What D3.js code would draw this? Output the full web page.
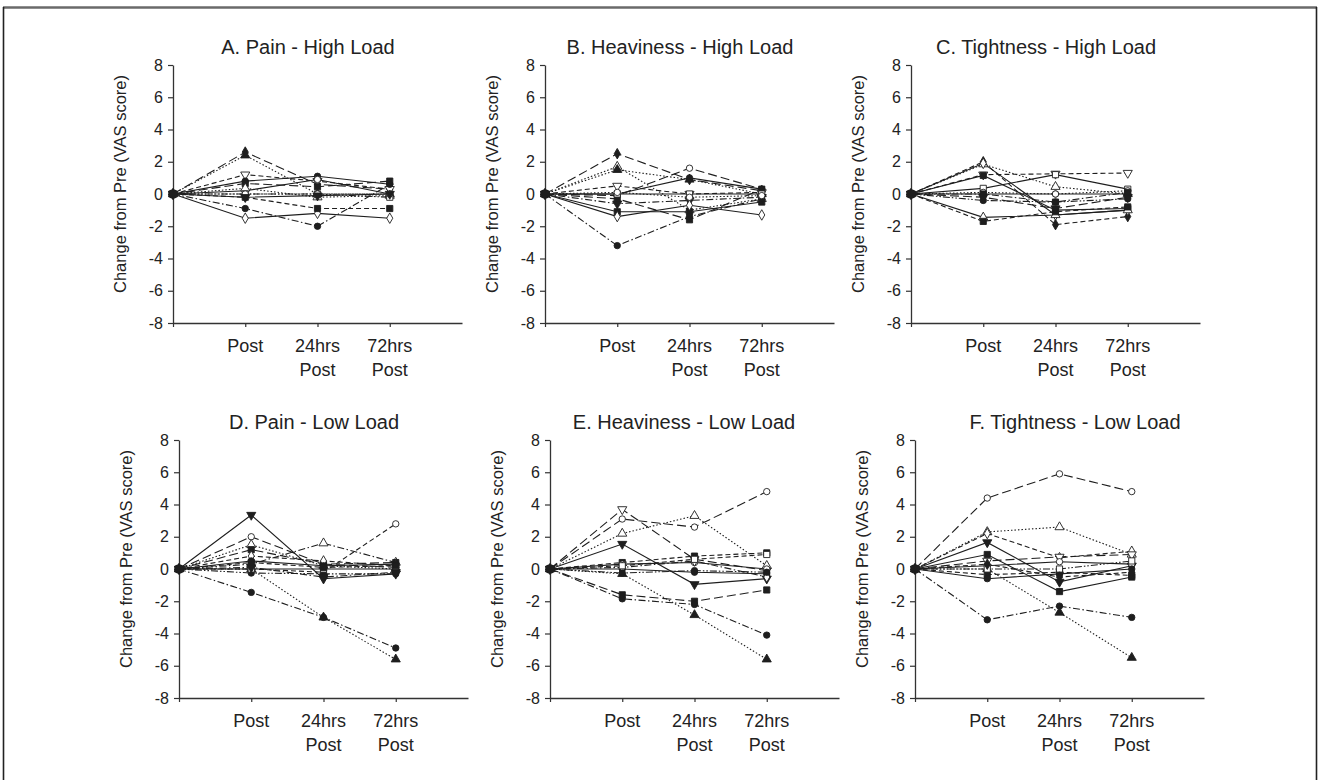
<!DOCTYPE html>
<html><head><meta charset="utf-8">
<script src="https://cdn.jsdelivr.net/npm/d3@7"></script>
<style>
html,body{margin:0;padding:0;background:#fff;}
svg{display:block;font-family:"Liberation Sans",Arial,sans-serif;}
</style></head>
<body><svg id="c" width="1320" height="780"></svg>
<script>
// ---------- DATA ----------
const timepoints = ["Pre", "Post", "24hrs Post", "72hrs Post"];
const xTickLines = [[], ["Post"], ["24hrs", "Post"], ["72hrs", "Post"]];
const yTicks = [-8, -6, -4, -2, 0, 2, 4, 6, 8];
const panelTitles = ["A. Pain - High Load", "B. Heaviness - High Load", "C. Tightness - High Load",
                     "D. Pain - Low Load", "E. Heaviness - Low Load", "F. Tightness - Low Load"];
const yAxisTitle = "Change from Pre (VAS score)";

// values at Pre, Post, 24hrs Post, 72hrs Post for each participant line
const painHigh = [
  [0, -1.5, -1.2, -1.5], [0, -0.9, -2.0, 0.6], [0, -0.2, -0.9, -0.9], [0, 2.6, 0.6, 0.3],
  [0, 2.4, 0.0, 0.0], [0, 1.2, 0.8, 0.3], [0, 0.8, 1.1, 0.6], [0, 0.2, 0.9, 0.0],
  [0, 0.65, 0.45, 0.8], [0, 0.35, -0.2, -0.1], [0, 0.0, 0.0, -0.2], [0, 0.0, 0.0, 0.0],
  [0, -0.2, -0.1, 0.0]
];
const heavinessHigh = [
  [0, 2.5, 0.9, 0.2], [0, 1.7, -1.0, -0.3], [0, 1.5, 0.9, 0.0], [0, -0.1, 1.6, 0.3],
  [0, 0.0, 1.0, 0.3], [0, 0.5, 0.0, 0.1], [0, -0.6, -0.4, -0.2], [0, -1.1, -1.1, -0.5],
  [0, -1.4, -0.7, -1.3], [0, -3.2, -1.4, -0.3], [0, -0.3, -1.6, 0.3], [0, 0.0, 0.0, 0.0],
  [0, 0.1, -0.2, -0.1]
];
const tightnessHigh = [
  [0, 2.0, -1.9, -1.4], [0, 1.85, 0.45, 0.0], [0, 1.9, -1.3, -1.0], [0, 1.2, 1.25, 1.3],
  [0, 1.15, -1.0, -0.9], [0, 0.35, 1.2, 0.3], [0, 0.0, 0.0, 0.0], [0, -0.4, -0.5, -0.3],
  [0, -1.45, -1.3, -1.0], [0, -1.7, -1.1, -0.8], [0, 0.1, 0.0, 0.2], [0, 0.0, -0.5, 0.1],
  [0, -0.2, -0.9, -0.2]
];
const painLow = [
  [0, 3.35, -0.6, -0.3], [0, 2.0, 0.3, 0.1], [0, 0.3, 1.6, 0.4], [0, 1.5, 0.2, 0.0],
  [0, 1.2, 0.3, 0.4], [0, 0.8, 0.5, 0.2], [0, 0.5, 0.2, 0.3], [0, 0.0, -0.2, 2.8],
  [0, 0.0, -3.0, -5.6], [0, -1.45, -3.0, -4.9], [0, -0.25, -0.3, -0.3], [0, 0.0, 0.0, 0.0],
  [0, 0.4, 0.1, 0.2], [0, 0.1, -0.5, -0.2]
];
const heavinessLow = [
  [0, 3.7, 0.6, -0.1], [0, 3.1, 2.6, 4.8], [0, 2.2, 3.3, 0.2], [0, 1.55, -0.95, -0.6],
  [0, 0.4, 0.8, 1.0], [0, -1.6, -2.0, -1.3], [0, -1.85, -2.2, -4.1], [0, -0.3, -2.85, -5.6],
  [0, 0.3, 0.4, 0.0], [0, 0.0, -0.2, -0.3], [0, 0.1, 0.5, -0.5], [0, 0.2, 0.6, 0.9],
  [0, -0.25, -0.1, -0.2]
];
const tightnessLow = [
  [0, 4.4, 5.9, 4.8], [0, 2.3, 2.6, 0.9], [0, 2.2, 0.7, 1.1], [0, 1.65, -0.8, 0.2],
  [0, 0.9, -1.4, -0.5], [0, -3.15, -2.3, -3.0], [0, 0.0, -2.7, -5.5], [0, 0.5, 0.75, 0.9],
  [0, 0.2, 0.45, 0.3], [0, -0.35, -0.2, -0.4], [0, -0.6, -0.3, 0.0], [0, 0.0, 0.0, 0.5],
  [0, 0.3, -0.5, -0.2]
];

// ---------- STYLES (marker + line pattern per line, per panel) ----------
const stylesA = ["od-so","fc-dd","fs-da","fd-ld","ft-dt","ov-da","fc-so","oc-so","fs-ld","ot-dt","os-d2","oc-dt","fv-so"];
const stylesB = ["fd-ld","ot-dt","ft-dt","oc-ld","fc-so","ov-da","fv-dd","fs-so","od-so","fc-dd","fs-ld","os-so","oc-dt"];
const stylesC = ["fd-da","ot-dt","od-so","ov-da","fs-so","os-so","fc-so","fc-d2","ot-so","fs-da","oc-dt","fs-dd","fv-ld"];
const stylesD = ["fv-so","oc-ld","ot-dd","ot-dt","fs-ld","od-da","fc-so","oc-da","ft-dt","fc-dd","fc-d2","os-so","fs-da","fv-dd"];
const stylesE = ["ov-ld","oc-ld","ot-dt","fv-so","fs-da","fs-ld","fc-dd","ft-dt","oc-so","fc-so","od-dd","os-da","fc-d2"];
const stylesF = ["oc-ld","ot-dt","od-da","fv-so","fs-so","fc-dd","ft-dt","ov-ld","oc-so","fs-da","fc-so","os-d2","fd-da"];

const panelData = [painHigh, heavinessHigh, tightnessHigh, painLow, heavinessLow, tightnessLow];
const panelStyles = [stylesA, stylesB, stylesC, stylesD, stylesE, stylesF];

// ---------- LAYOUT ----------
const plotW = 289;
const panelLayout = [
  {x0: 173, yTop: 65, yBot: 323, tdx: 135}, {x0: 545, yTop: 65, yBot: 323, tdx: 135}, {x0: 911, yTop: 65, yBot: 323, tdx: 135},
  {x0: 179, yTop: 440, yBot: 698, tdx: 135}, {x0: 550, yTop: 440, yBot: 698, tdx: 134}, {x0: 915, yTop: 440, yBot: 698, tdx: 160}
];
const dashMap = {so: null, da: "5,3", ld: "9,4", dt: "1.5,2", dd: "7,2.5,1.5,2.5", d2: "7,2,1.5,2,1.5,2"};
const ink = "#1e1e1e";

const svg = d3.select("#c");

// outer frame
svg.append("line").attr("x1", 3).attr("x2", 1317).attr("y1", 7.5).attr("y2", 7.5).attr("stroke", "#6a6a6a").attr("stroke-width", 2.5);
svg.append("line").attr("x1", 3.5).attr("x2", 3.5).attr("y1", 7).attr("y2", 780).attr("stroke", "#222").attr("stroke-width", 1.6);
svg.append("line").attr("x1", 1316.5).attr("x2", 1316.5).attr("y1", 7).attr("y2", 780).attr("stroke", "#222").attr("stroke-width", 1.6);

function markerPath(code) {
  const shape = code[1];
  const typeMap = {c: d3.symbolCircle, s: d3.symbolSquare, t: d3.symbolTriangle, v: d3.symbolTriangle, d: d3.symbolDiamond};
  const sizeMap = {c: 32, s: 38, t: 36, v: 36, d: 32};
  return d3.symbol().type(typeMap[shape]).size(sizeMap[shape])();
}

panelData.forEach((series, pi) => {
  const L = panelLayout[pi];
  const styles = panelStyles[pi];
  const x = d3.scaleLinear().domain([0, 4]).range([L.x0, L.x0 + plotW]);
  const y = d3.scaleLinear().domain([-8, 8]).range([L.yBot, L.yTop]);
  const g = svg.append("g");

  // axes
  const yAx = g.append("g").attr("transform", `translate(${L.x0},0)`)
    .call(d3.axisLeft(y).tickValues(yTicks).tickSize(5).tickPadding(5).tickSizeOuter(0).tickFormat(d => String(d)));
  const xAx = g.append("g").attr("transform", `translate(0,${L.yBot})`)
    .call(d3.axisBottom(x).tickValues([0, 1, 2, 3]).tickSize(4).tickSizeOuter(0).tickFormat(""));
  [yAx, xAx].forEach(a => {
    a.select(".domain").attr("stroke", "#333").attr("stroke-width", 1.3);
    a.selectAll(".tick line").attr("stroke", "#333").attr("stroke-width", 1.2);
  });
  yAx.selectAll(".tick text").attr("fill", "#222").style("font-size", "16px").style("font-family", "Liberation Sans, Arial, sans-serif");

  xTickLines.forEach((lines, i) => {
    lines.forEach((t, k) => {
      g.append("text").attr("x", x(i)).attr("y", L.yBot + 29 + k * 24)
        .attr("text-anchor", "middle").attr("fill", "#222").style("font-size", "18px").text(t);
    });
  });

  // titles
  g.append("text").attr("x", L.x0 + L.tdx).attr("y", L.yTop - 11).attr("text-anchor", "middle")
    .attr("fill", "#222").style("font-size", "20px").text(panelTitles[pi]);
  g.append("text").attr("transform", `translate(${L.x0 - 47},${(L.yTop + L.yBot) / 2 - 10}) rotate(-90)`)
    .attr("text-anchor", "middle").attr("fill", "#222").style("font-size", "16.5px").text(yAxisTitle);

  const line = d3.line().x((d, i) => x(i)).y(d => y(d));
  // lines
  series.forEach((vals, si) => {
    const st = styles[si].split("-");
    g.append("path").attr("d", line(vals)).attr("fill", "none").attr("stroke", ink)
      .attr("stroke-width", 1.1).attr("stroke-dasharray", dashMap[st[1]]);
  });
  // markers
  series.forEach((vals, si) => {
    const st = styles[si].split("-");
    const mk = st[0];
    g.selectAll(null).data(vals).enter().append("path")
      .attr("d", markerPath(mk))
      .attr("transform", (d, i) => `translate(${x(i)},${y(d)})` + (mk[1] === "v" ? " rotate(180)" : ""))
      .attr("fill", mk[0] === "f" ? ink : "#fff").attr("stroke", ink).attr("stroke-width", 0.9);
  });
  // Pre point on top (all lines start at the same filled point)
  g.append("circle").datum(series[0][0]).attr("cx", x(0)).attr("cy", d => y(d)).attr("r", 4.8).attr("fill", ink);
});
</script></body></html>
